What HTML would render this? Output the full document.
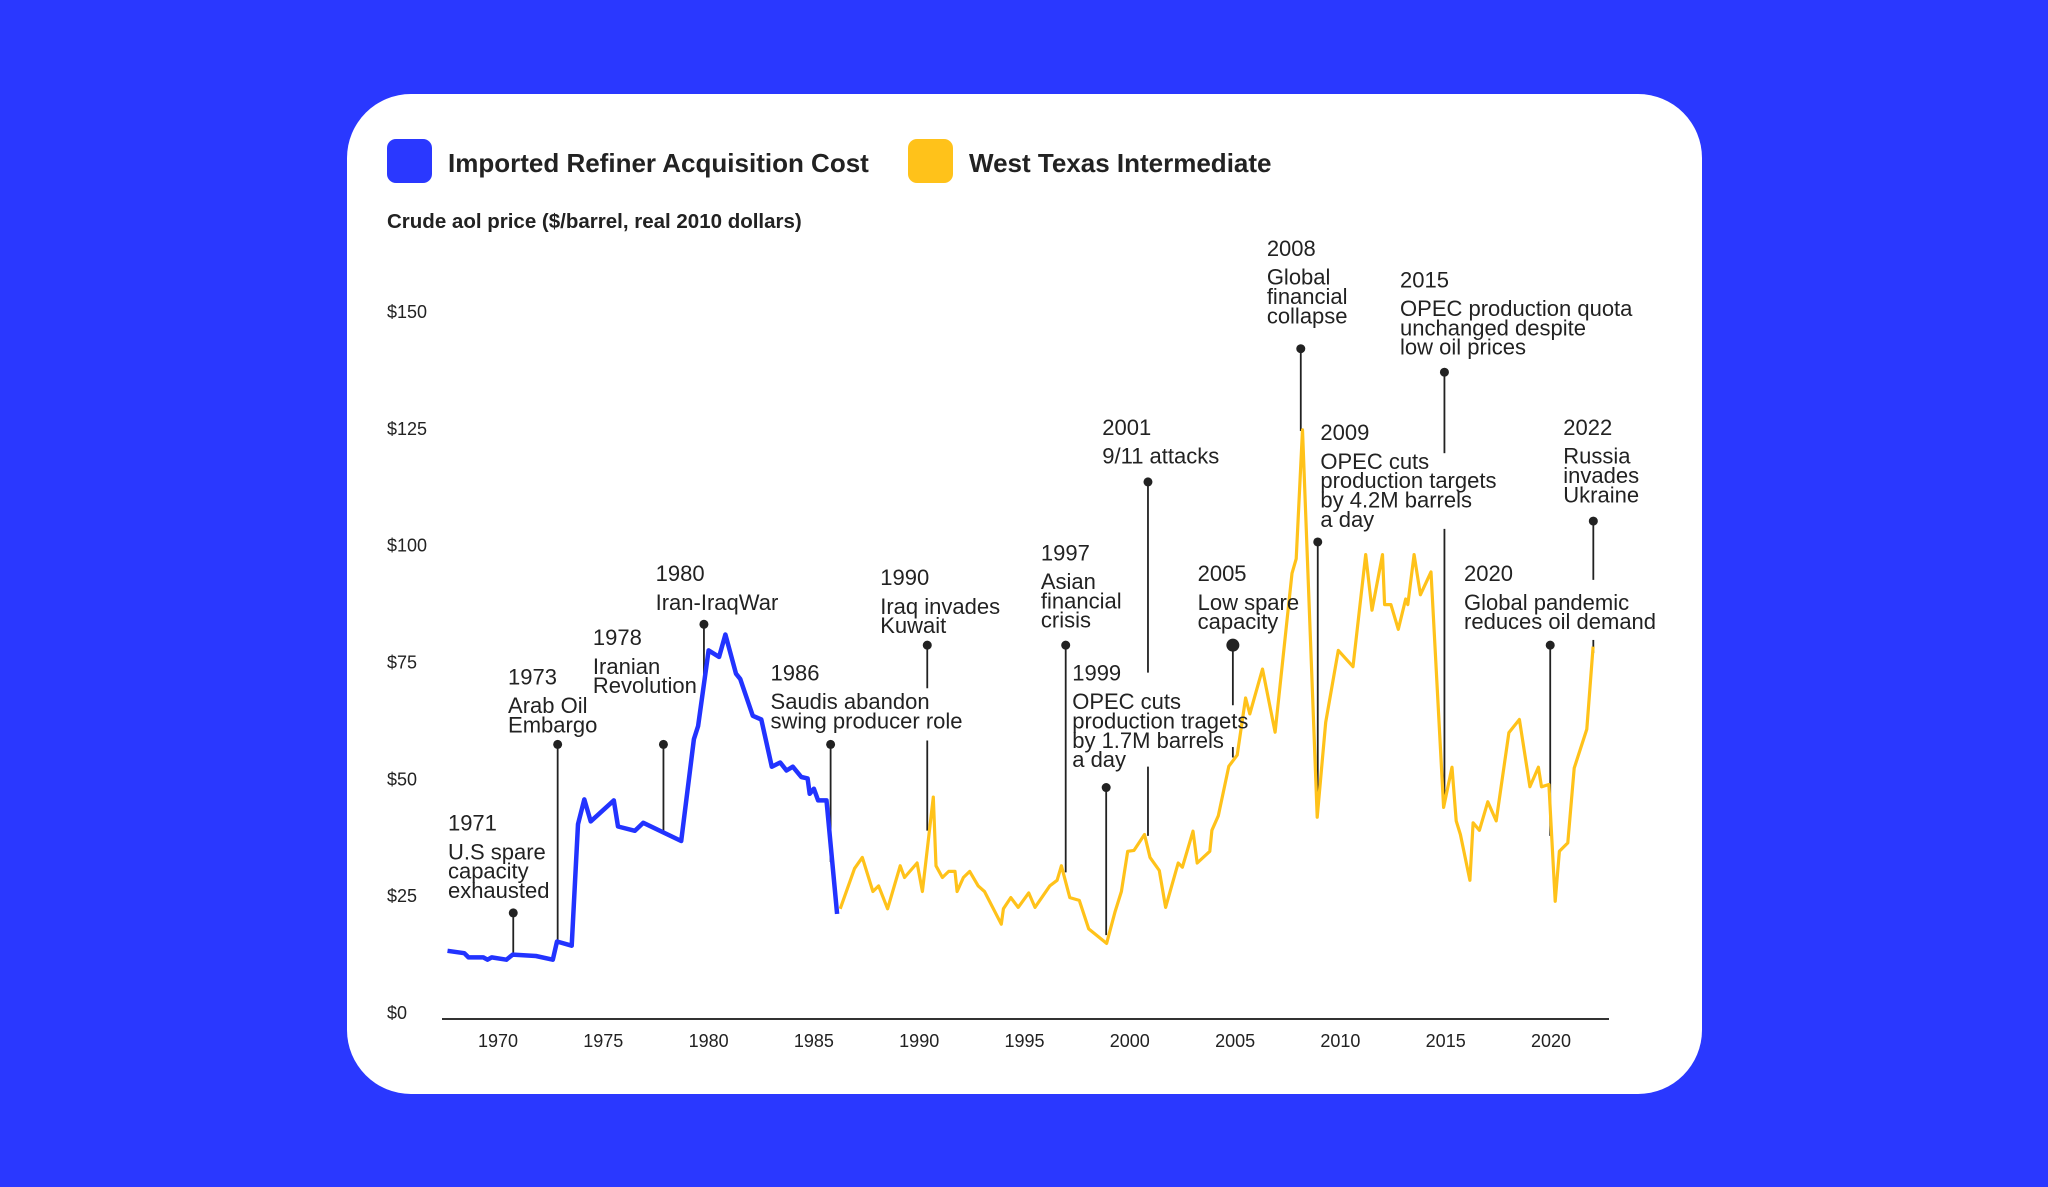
<!DOCTYPE html>
<html><head><meta charset="utf-8"><style>
html,body{margin:0;padding:0;background:#2a38ff;}
body{width:2048px;height:1187px;overflow:hidden;position:relative;font-family:"Liberation Sans",sans-serif;}
#card{position:absolute;left:347px;top:94px;width:1355px;height:1000px;background:#fff;border-radius:64px;}
svg{position:absolute;left:0;top:0;}
</style></head><body>
<div id="card"></div>
<svg id="chart" width="2048" height="1187" viewBox="0 0 2048 1187">
  <g>
    <rect x="387" y="139" width="45" height="44" rx="9" fill="#2a38ff"/>
    <text x="448" y="172" font-size="26" font-weight="bold" fill="#222">Imported Refiner Acquisition Cost</text>
    <rect x="908" y="139" width="45" height="44" rx="9" fill="#ffc21a"/>
    <text x="969" y="172" font-size="26" font-weight="bold" fill="#222">West Texas Intermediate</text>
  </g>
  <text x="387" y="228" font-size="20.5" font-weight="bold" fill="#222">Crude aol price ($/barrel, real 2010 dollars)</text>
  <g id="yticks"></g>
  <g id="xticks"></g>
  <line x1="442" y1="1019" x2="1609" y2="1019" stroke="#333" stroke-width="2"/>
  <g id="annLines"></g>
  <path id="blueLine" fill="none" stroke="#2233ff" stroke-width="4.5" stroke-linejoin="round"/>
  <path id="wtiLine" fill="none" stroke="#ffc21a" stroke-width="3.2" stroke-linejoin="round"/>
  <g id="annText" font-size="22" fill="#222"></g>
</svg>
<script>
const yTicks=[0,25,50,75,100,125,150];
const yTickLabels=["$0","$25","$50","$75","$100","$125","$150"];
const xTicks=[1970,1975,1980,1985,1990,1995,2000,2005,2010,2015,2020];
const iracYears=[1967.6,1968.4,1968.6,1969.3,1969.5,1969.7,1970.4,1970.7,1971.8,1972.6,1972.8,1973.5,1973.8,1974.1,1974.4,1975.5,1975.7,1976.5,1976.9,1978.7,1979.3,1979.5,1980.0,1980.5,1980.8,1981.3,1981.5,1982.1,1982.5,1983.0,1983.4,1983.7,1984.0,1984.4,1984.7,1984.8,1985.0,1985.2,1985.6,1986.1];
const iracValues=[13.3,12.8,11.9,11.9,11.4,11.9,11.4,12.5,12.2,11.4,15.3,14.4,40.4,45.7,41.0,45.5,39.9,39.0,40.7,36.8,58.6,61.4,77.6,76.2,81.0,72.6,71.5,63.6,62.8,52.7,53.6,51.9,52.7,50.5,50.2,46.9,48.0,45.5,45.5,21.2];
const wtiYears=[1986.25,1986.93,1987.3,1987.8,1988.07,1988.5,1989.1,1989.3,1989.9,1990.15,1990.67,1990.8,1991.1,1991.4,1991.7,1991.8,1992.1,1992.4,1992.8,1993.1,1993.9,1994.0,1994.35,1994.7,1995.2,1995.5,1996.2,1996.55,1996.75,1997.15,1997.6,1998.05,1998.9,1999.3,1999.6,1999.9,2000.2,2000.7,2000.96,2001.4,2001.7,2002.3,2002.5,2003.0,2003.2,2003.8,2003.9,2004.2,2004.7,2005.1,2005.5,2005.7,2006.3,2006.9,2007.7,2007.9,2008.2,2008.9,2009.3,2009.9,2010.6,2011.2,2011.5,2012.0,2012.1,2012.4,2012.75,2013.1,2013.2,2013.5,2013.8,2014.3,2014.9,2015.3,2015.5,2015.7,2016.15,2016.3,2016.6,2017.0,2017.4,2018.0,2018.5,2019.0,2019.4,2019.55,2019.9,2020.2,2020.4,2020.8,2021.1,2021.7,2022.0];
const wtiValues=[22.3,30.9,33.3,26.0,27.2,22.3,31.5,29.0,32.1,26.0,46.2,31.5,29.0,30.3,30.3,26.0,29.0,30.3,27.2,26.0,19.0,22.3,24.7,22.6,25.7,22.6,27.2,28.4,31.5,24.7,24.1,18.0,14.9,21.7,26.0,34.6,34.8,38.2,33.3,30.5,22.6,32.1,31.2,38.9,32.1,34.6,39.1,42.2,52.8,55.2,67.4,64.0,73.6,60.1,94.1,97.2,124.8,41.9,62.2,77.6,74.1,98.1,86.2,98.1,87.4,87.4,82.1,88.6,87.4,98.1,89.5,94.4,44.0,52.6,41.1,38.2,28.4,40.7,39.1,45.2,41.1,60.0,62.8,48.4,52.6,48.4,48.9,23.9,34.6,36.4,52.4,60.7,78.4];

const NS="http://www.w3.org/2000/svg";
function xs(yr){return 498+(yr-1970)*21.06;}
function ys(v){return 1013-v*4.673;}
function mk(tag,attrs,parent){const e=document.createElementNS(NS,tag);for(const k in attrs)e.setAttribute(k,attrs[k]);parent.appendChild(e);return e;}

const yg=document.getElementById('yticks');
yTicks.forEach((v,i)=>{
  const t=mk('text',{x:387,y:ys(v)+6,'font-size':18,fill:'#222'},yg);
  
  
  t.textContent=yTickLabels[i];
});
const xg=document.getElementById('xticks');
xTicks.forEach(yr=>{
  const t=mk('text',{x:xs(yr),y:1047,'font-size':18,fill:'#222','text-anchor':'middle'},xg);
  
  
  t.textContent=yr;
});
function pathD(xsArr,vs){return xsArr.map((yr,i)=>(i?'L':'M')+xs(yr).toFixed(1)+','+ys(vs[i]).toFixed(1)).join(' ');}
document.getElementById('blueLine').setAttribute('d',pathD(iracYears,iracValues));
document.getElementById('wtiLine').setAttribute('d',pathD(wtiYears,wtiValues));

const S=1.306;
const anns=[
 {tx:343,ty:630,year:"1971",lines:["U.S spare","capacity","exhausted"],lx:393,segs:[[699,731]]},
 {tx:389,ty:518,year:"1973",lines:["Arab Oil","Embargo"],lx:427,segs:[[570,721]]},
 {tx:454,ty:488,year:"1978",lines:["Iranian","Revolution"],lx:508,segs:[[570,637]]},
 {tx:502,ty:439,year:"1980",lines:["Iran-IraqWar"],lx:539,segs:[[478,520]]},
 {tx:590,ty:515,year:"1986",lines:["Saudis abandon","swing producer role"],lx:636,segs:[[570,660]]},
 {tx:674,ty:442,year:"1990",lines:["Iraq invades","Kuwait"],lx:710,segs:[[494,527],[567,636]]},
 {tx:797,ty:423,year:"1997",lines:["Asian","financial","crisis"],lx:816,segs:[[494,668]]},
 {tx:821,ty:515,year:"1999",lines:["OPEC cuts","production tragets","by 1.7M barrels","a day"],lx:847,segs:[[603,716]]},
 {tx:844,ty:327,year:"2001",lines:["9/11 attacks"],lx:879,segs:[[369,515],[587,640]]},
 {tx:917,ty:439,year:"2005",lines:["Low spare","capacity"],lx:944,segs:[[494,540],[572,580]],big:true},
 {tx:970,ty:190,year:"2008",lines:["Global","financial","collapse"],lx:996,segs:[[267,330]]},
 {tx:1011,ty:331,year:"2009",lines:["OPEC cuts","production targets","by 4.2M barrels","a day"],lx:1009,segs:[[415,620]]},
 {tx:1072,ty:214,year:"2015",lines:["OPEC production quota","unchanged despite","low oil prices"],lx:1106,segs:[[285,347],[405,617]]},
 {tx:1121,ty:439,year:"2020",lines:["Global pandemic","reduces oil demand"],lx:1187,segs:[[494,640]]},
 {tx:1197,ty:327,year:"2022",lines:["Russia","invades","Ukraine"],lx:1220,segs:[[399,444],[490,500]]}
];
const al=document.getElementById('annLines'), at=document.getElementById('annText');
anns.forEach(a=>{
  a.segs.forEach(s=>{
    const l=mk('line',{x1:a.lx*S,y1:s[0]*S,x2:a.lx*S,y2:s[1]*S,stroke:'#222','stroke-width':1.8},al);
    
    
  });
  const c=mk('circle',{cx:a.lx*S,cy:a.segs[0][0]*S,r:a.big?6.5:4.5,fill:'#222'},al);
  
  
  const g=mk('g',{},at);
  
  
  const ty=mk('text',{x:a.tx*S,y:(a.ty+6)*S},g);
  ty.textContent=a.year;
  a.lines.forEach((ln,i)=>{
    const t=mk('text',{x:a.tx*S,y:(a.ty+22+i*14.8+6)*S},g);
    t.textContent=ln;
  });
});
</script>
</body></html>
